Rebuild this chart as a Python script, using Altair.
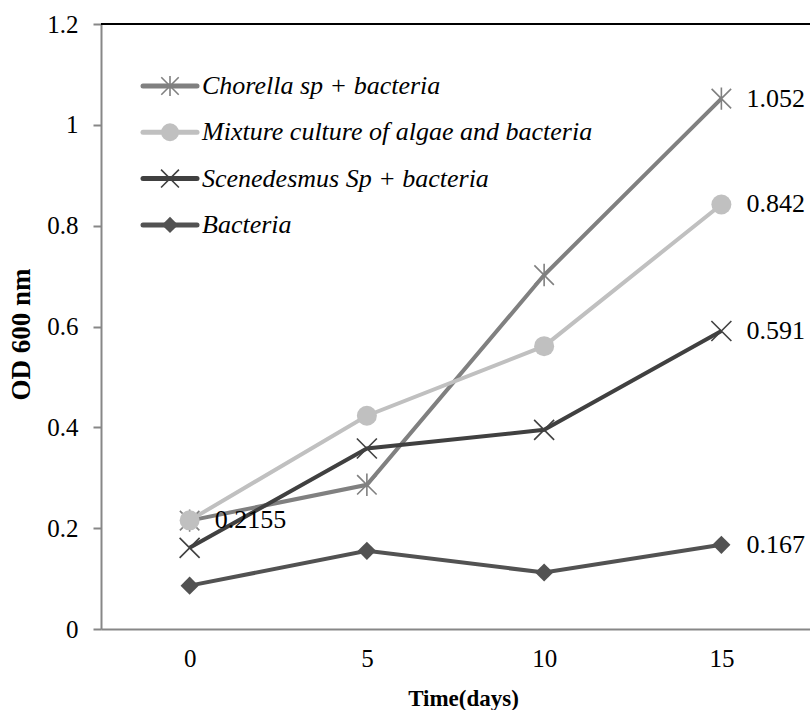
import altair as alt
import pandas as pd

# Optical density (600 nm) of each culture over time
days = [0, 5, 10, 15]
series_names = [
    "Chorella sp + bacteria",
    "Mixture culture of algae and  bacteria",
    "Scenedesmus Sp + bacteria",
    "Bacteria",
]
chorella = [0.215, 0.286, 0.702, 1.052]
mixture = [0.2155, 0.423, 0.561, 0.842]
scenedesmus = [0.161, 0.358, 0.395, 0.591]
bacteria = [0.086, 0.155, 0.112, 0.167]

# (series index, day index) of the points that carry a value label
labelled_points = [(0, 3), (1, 3), (1, 0), (2, 3), (3, 3)]

colors = ["#808080", "#c0c0c0", "#404040", "#525252"]
y_ticks = [0, 0.2, 0.4, 0.6, 0.8, 1.0, 1.2]

FONT = "'Liberation Serif', 'Times New Roman', Times, serif"
W, H = 709, 605
AXIS_GRAY = "#878787"

values = [chorella, mixture, scenedesmus, bacteria]
rows = []
for name, vals in zip(series_names, values):
    for d, v in zip(days, vals):
        rows.append({"series": name, "day": d, "od": v})
df = pd.DataFrame(rows)

labels_df = pd.DataFrame(
    [
        {"series": series_names[s], "day": days[i], "od": values[s][i], "txt": str(values[s][i])}
        for s, i in labelled_points
    ]
)

x_enc = alt.X(
    "day:Q",
    scale=alt.Scale(domain=[-2.5, 17.5], nice=False, zero=False),
    axis=alt.Axis(
        values=days,
        title="Time(days)",
        grid=False,
        ticks=False,
        domainColor=AXIS_GRAY,
        domainWidth=2,
        labelFont=FONT,
        labelFontSize=25,
        labelColor="black",
        labelPadding=17,
        titleFont=FONT,
        titleFontSize=23,
        titleFontWeight="bold",
        titleColor="black",
        titleBaseline="middle",
        titleX=362,
        titleY=69,
    ),
)
y_enc = alt.Y(
    "od:Q",
    scale=alt.Scale(domain=[0, 1.2], nice=False),
    axis=alt.Axis(
        values=y_ticks,
        format="~g",
        title="OD 600 nm",
        grid=False,
        tickSize=8,
        tickColor=AXIS_GRAY,
        tickWidth=2,
        domainColor=AXIS_GRAY,
        domainWidth=2,
        labelFont=FONT,
        labelFontSize=25,
        labelColor="black",
        labelPadding=15,
        titleFont=FONT,
        titleFontSize=27,
        titleFontWeight="bold",
        titleColor="black",
        titleX=-66,
        titleY=310,
    ),
)

color_scale = alt.Scale(domain=series_names, range=colors)

lines = (
    alt.Chart(df)
    .mark_line(strokeWidth=4)
    .encode(
        x=x_enc,
        y=y_enc,
        color=alt.Color("series:N", scale=color_scale, legend=None),
        order=alt.Order("day:Q"),
    )
)

# marker styles per series
ASTERISK = "M-1,-1L1,1M-1,1L1,-1M0,-1.15L0,1.15"
XCROSS = "M-1,-1L1,1M-1,1L1,-1"
marker_styles = [
    dict(shape=ASTERISK, filled=False, size=380, strokeWidth=1.6),
    dict(shape="circle", filled=True, size=400, strokeWidth=0),
    dict(shape=XCROSS, filled=False, size=400, strokeWidth=1.6),
    dict(shape="diamond", filled=True, size=330, strokeWidth=0),
]

point_layers = []
for name, col, st in zip(series_names, colors, marker_styles):
    point_layers.append(
        alt.Chart(df)
        .transform_filter(alt.datum.series == name)
        .mark_point(
            shape=st["shape"],
            filled=st["filled"],
            size=st["size"],
            strokeWidth=st["strokeWidth"],
            color=col,
            opacity=1,
        )
        .encode(x="day:Q", y="od:Q")
    )

value_labels = (
    alt.Chart(labels_df)
    .mark_text(align="left", baseline="middle", dx=25, font=FONT, fontSize=26, color="black")
    .encode(x="day:Q", y="od:Q", text="txt:N")
)

top_line = (
    alt.Chart(pd.DataFrame({"k": [0]}))
    .mark_rule(color="black", strokeWidth=2)
    .encode(x=alt.value(0), x2=alt.value(W), y=alt.value(0))
)

# legend drawn in the upper left of the plot area
legend_layers = []
for i, (name, col, st) in enumerate(zip(series_names, colors, marker_styles)):
    ly = 62 + i * 46.3
    ldf = pd.DataFrame({"series": [name]})
    legend_layers.append(
        alt.Chart(ldf)
        .mark_rule(color=col, strokeWidth=5, strokeCap="round")
        .encode(x=alt.value(42), x2=alt.value(96), y=alt.value(ly))
    )
    legend_layers.append(
        alt.Chart(ldf)
        .mark_point(
            shape=st["shape"],
            filled=st["filled"],
            size=st["size"] * 0.8,
            strokeWidth=st["strokeWidth"],
            color=col,
            opacity=1,
        )
        .encode(x=alt.value(69), y=alt.value(ly))
    )
    legend_layers.append(
        alt.Chart(ldf)
        .mark_text(
            align="left",
            baseline="middle",
            font=FONT,
            fontSize=26,
            fontStyle="italic",
            color="black",
        )
        .encode(x=alt.value(101), y=alt.value(ly), text="series:N")
    )

chart = (
    alt.layer(lines, *point_layers, value_labels, top_line, *legend_layers)
    .properties(
        width=W,
        height=H,
        autosize=alt.AutoSizeParams(type="none"),
        padding={"left": 101, "top": 24, "right": 0, "bottom": 81},
        background="white",
    )
    .configure(font=FONT)
    .configure_view(stroke=None)
)

chart.save("out.html", embed_options={"renderer": "svg", "actions": False})
